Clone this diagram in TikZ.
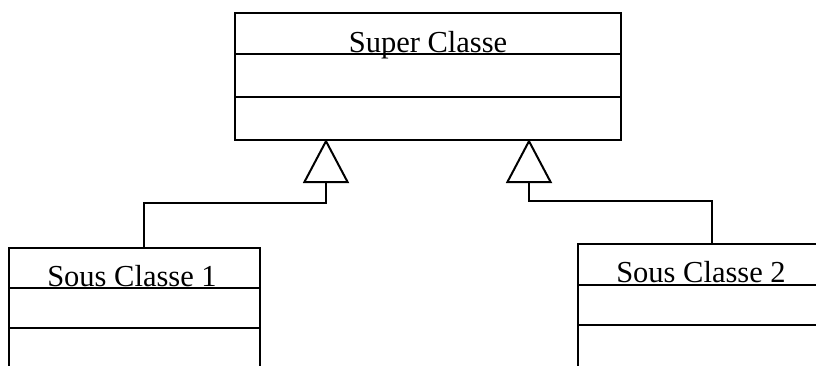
\documentclass[tikz,border=0pt]{standalone}
\usepackage{fontspec}
\setmainfont{Liberation Serif}
\usetikzlibrary{arrows.meta}
\begin{document}
\begin{tikzpicture}[x=1pt,y=-1pt, line width=2pt,
  classbox/.style={draw, rectangle, inner sep=0pt},
  classname/.style={anchor=base, inner sep=0pt, font=\fontsize{30.5pt}{36pt}\selectfont},
  inherit/.style={draw, shorten >=-2pt, -{Triangle[open, length=44pt, width=46pt]}}
]
\fill[white] (0,0) rectangle (816,365);
\clip (0,0) rectangle (816,365);

% super class with its three compartments
\node[classbox, minimum width=386pt, minimum height=127pt] (super) at (428,76.5) {};
\draw ([yshift=-42pt]super.north west) -- ([yshift=-42pt]super.north east);
\draw ([yshift=-85pt]super.north west) -- ([yshift=-85pt]super.north east);
\node[classname] (superName) at (428,52) {Super Classe};

% first sub class
\node[classbox, minimum width=251pt, minimum height=172pt] (sub1) at (134.5,334) {};
\draw ([yshift=-41pt]sub1.north west) -- ([yshift=-41pt]sub1.north east);
\draw ([yshift=-81pt]sub1.north west) -- ([yshift=-81pt]sub1.north east);
\node[classname] (sub1Name) at (132,286) {Sous Classe 1};

% second sub class
\node[classbox, minimum width=246pt, minimum height=176pt] (sub2) at (701,332) {};
\draw ([yshift=-42pt]sub2.north west) -- ([yshift=-42pt]sub2.north east);
\draw ([yshift=-82pt]sub2.north west) -- ([yshift=-82pt]sub2.north east);
\node[classname] (sub2Name) at (701,282) {Sous Classe 2};

% generalisation links
\draw[inherit] ([xshift=136pt]sub1.north west) -- ++(0,-44) -| ([xshift=92pt]super.south west);
\draw[inherit] ([xshift=135pt]sub2.north west) -- ++(0,-42) -| ([xshift=295pt]super.south west);
\end{tikzpicture}
\end{document}
